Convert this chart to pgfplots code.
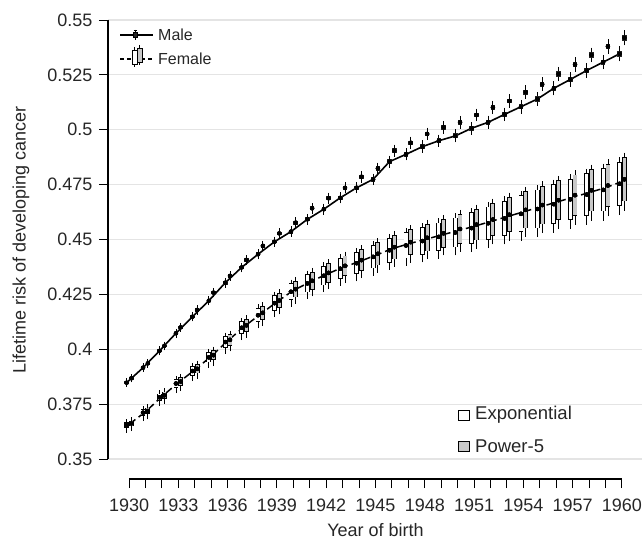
\documentclass[border=0pt]{standalone}
\usepackage{fontspec}
\setmainfont{Liberation Sans}
\usepackage{pgfplots}
\usepackage{pgfplotstable}
\pgfplotsset{compat=1.18}

% columns: year, lower whisker, lower quartile, median, upper quartile, upper whisker
% Female, exponential (white boxes); mid = level of the dashed female line
\pgfplotstableread{
x lw lq med uq uw mid
1930 .3626 .3641 .3654 .3667 .3675 .3658
1931 .3680 .3696 .3711 .3726 .3734 .3715
1932 .3748 .3764 .3781 .3798 .3806 .3785
1933 .3808 .3825 .3844 .3863 .3872 .3848
1934 .3862 .3880 .3901 .3922 .3931 .3906
1935 .3921 .3940 .3963 .3986 .3995 .3968
1936 .3988 .4007 .4033 .4059 .4068 .4038
1937 .4049 .4069 .4098 .4127 .4136 .4103
1938 .4102 .4123 .4155 .4187 .4197 .4160
1939 .4154 .4175 .4210 .4245 .4255 .4216
1940 .4202 .4224 .4262 .4300 .4310 .4268
1941 .4236 .4259 .4300 .4341 .4351 .4306
1942 .4268 .4291 .4335 .4379 .4389 .4341
1943 .4296 .4320 .4367 .4414 .4425 .4373
1944 .4317 .4342 .4392 .4442 .4453 .4399
1945 .4342 .4368 .4421 .4474 .4485 .4428
1946 .4369 .4395 .4451 .4507 .4518 .4458
1947 .4387 .4414 .4473 .4532 .4543 .4480
1948 .4403 .4431 .4493 .4555 .4567 .4500
1949 .4419 .4447 .4512 .4577 .4589 .4520
1950 .4435 .4464 .4532 .4600 .4612 .4540
1951 .4450 .4480 .4552 .4624 .4636 .4560
1952 .4468 .4498 .4574 .4650 .4662 .4582
1953 .4485 .4516 .4596 .4676 .4689 .4604
1954 .4501 .4533 .4617 .4701 .4714 .4626
1955 .4518 .4551 .4639 .4727 .4740 .4648
1956 .4537 .4570 .4661 .4752 .4765 .4670
1957 .4555 .4589 .4683 .4777 .4790 .4692
1958 .4574 .4609 .4705 .4801 .4815 .4714
1959 .4593 .4628 .4726 .4824 .4838 .4736
1960 .4618 .4654 .4754 .4854 .4868 .4764
}\femexp

% Female, power-5 (grey boxes)
\pgfplotstableread{
x lw lq med uq uw
1930 .3634 .3649 .3662 .3675 .3683
1931 .3688 .3704 .3719 .3734 .3742
1932 .3757 .3773 .3790 .3807 .3815
1933 .3817 .3834 .3853 .3872 .3881
1934 .3872 .3890 .3911 .3932 .3941
1935 .3931 .3950 .3973 .3996 .4005
1936 .3998 .4017 .4043 .4069 .4078
1937 .4060 .4080 .4109 .4138 .4147
1938 .4113 .4134 .4166 .4198 .4208
1939 .4166 .4187 .4222 .4257 .4267
1940 .4214 .4236 .4274 .4312 .4322
1941 .4248 .4271 .4312 .4353 .4363
1942 .4281 .4304 .4348 .4392 .4402
1943 .4309 .4333 .4380 .4427 .4438
1944 .4331 .4356 .4406 .4456 .4467
1945 .4356 .4382 .4435 .4488 .4499
1946 .4383 .4409 .4465 .4521 .4532
1947 .4402 .4429 .4488 .4547 .4558
1948 .4418 .4446 .4508 .4570 .4582
1949 .4435 .4463 .4528 .4593 .4605
1950 .4451 .4480 .4548 .4616 .4628
1951 .4466 .4496 .4568 .4640 .4652
1952 .4485 .4515 .4591 .4667 .4679
1953 .4502 .4533 .4613 .4693 .4706
1954 .4519 .4551 .4635 .4719 .4732
1955 .4536 .4569 .4657 .4745 .4758
1956 .4555 .4588 .4679 .4770 .4783
1957 .4574 .4608 .4702 .4796 .4809
1958 .4593 .4628 .4724 .4820 .4834
1959 .4613 .4648 .4746 .4844 .4858
1960 .4638 .4674 .4774 .4874 .4888
}\fempow

% Male, exponential
\pgfplotstableread{
x lw lq med uq uw
1930 .3836 .3842 .3848 .3854 .3860
1931 .3904 .3910 .3916 .3922 .3928
1932 .3980 .3987 .3993 .3999 .4006
1933 .4060 .4066 .4073 .4080 .4086
1934 .4134 .4141 .4148 .4155 .4162
1935 .4207 .4214 .4221 .4228 .4235
1936 .4288 .4295 .4303 .4311 .4318
1937 .4358 .4365 .4373 .4381 .4388
1938 .4417 .4425 .4433 .4441 .4449
1939 .4474 .4482 .4490 .4498 .4506
1940 .4519 .4527 .4536 .4545 .4553
1941 .4575 .4583 .4592 .4601 .4609
1942 .4620 .4629 .4638 .4647 .4656
1943 .4672 .4681 .4690 .4699 .4708
1944 .4717 .4726 .4736 .4746 .4755
1945 .4755 .4764 .4774 .4784 .4793
1946 .4835 .4845 .4855 .4865 .4875
1947 .4868 .4878 .4888 .4898 .4908
1948 .4902 .4913 .4923 .4933 .4944
1949 .4929 .4939 .4950 .4961 .4971
1950 .4950 .4961 .4972 .4983 .4994
1951 .4985 .4996 .5007 .5018 .5029
1952 .5011 .5023 .5034 .5045 .5057
1953 .5047 .5059 .5070 .5081 .5093
1954 .5081 .5093 .5105 .5117 .5129
1955 .5116 .5128 .5140 .5152 .5164
1956 .5164 .5177 .5189 .5201 .5214
1957 .5204 .5217 .5229 .5241 .5254
1958 .5244 .5258 .5270 .5282 .5296
1959 .5282 .5296 .5308 .5320 .5334
1960 .5319 .5333 .5346 .5359 .5373
}\malexp

% Male, power-5
\pgfplotstableread{
x lw lq med uq uw
1930 .3856 .3862 .3868 .3874 .3880
1931 .3924 .3930 .3936 .3942 .3948
1932 .4002 .4009 .4015 .4021 .4028
1933 .4087 .4093 .4100 .4107 .4113
1934 .4165 .4172 .4179 .4186 .4193
1935 .4244 .4251 .4258 .4265 .4272
1936 .4319 .4326 .4334 .4342 .4349
1937 .4392 .4399 .4407 .4415 .4422
1938 .4455 .4463 .4471 .4479 .4487
1939 .4512 .4520 .4528 .4536 .4544
1940 .4560 .4568 .4577 .4586 .4594
1941 .4625 .4633 .4642 .4651 .4659
1942 .4670 .4679 .4688 .4697 .4706
1943 .4717 .4726 .4735 .4744 .4753
1944 .4767 .4776 .4786 .4796 .4805
1945 .4805 .4814 .4824 .4834 .4843
1946 .4885 .4895 .4905 .4915 .4925
1947 .4921 .4931 .4941 .4951 .4961
1948 .4960 .4971 .4981 .4991 .5002
1949 .4990 .5000 .5011 .5022 .5032
1950 .5012 .5023 .5034 .5045 .5056
1951 .5045 .5056 .5067 .5078 .5089
1952 .5079 .5091 .5102 .5113 .5125
1953 .5108 .5120 .5131 .5142 .5154
1954 .5147 .5159 .5171 .5183 .5195
1955 .5183 .5195 .5207 .5219 .5231
1956 .5229 .5242 .5254 .5266 .5279
1957 .5272 .5285 .5297 .5309 .5322
1958 .5315 .5329 .5341 .5353 .5367
1959 .5354 .5368 .5380 .5392 .5406
1960 .5392 .5406 .5419 .5432 .5446
}\malpow

\definecolor{boxgrey}{HTML}{C8C8C8}
\definecolor{gridgrey}{HTML}{E4E4E4}
\definecolor{maledark}{HTML}{262626}

\pgfplotsset{
  whisk/.style={only marks, mark=none,
    error bars/.cd, y dir=both, y explicit, error mark=-,
    error mark options={black, mark size=1.6pt, line width=0.8pt},
    error bar style={draw=black, line width=0.8pt}},
  boxbar/.style 2 args={only marks, mark=none,
    error bars/.cd, y dir=both, y explicit, error mark=none,
    error bar style={draw=#1, line width=#2, line cap=butt}},
  medmark/.style={only marks, mark=-, mark size=2.4pt,
    mark options={black, line width=1.6pt}},
}

\begin{document}
\begin{tikzpicture}
\begin{axis}[
  at={(0pt,0pt)}, anchor=south west,
  scale only axis, width=534pt, height=459pt,
  xmin=-1.28, xmax=31.22, ymin=0.3409, ymax=0.55,
  axis x line*=bottom, axis y line*=left,
  axis line style={draw=none},
  tick align=outside, major tick length=9pt,
  tick style={black, line width=1pt},
  xtick={0,...,30},
  xticklabels={1930,,,1933,,,1936,,,1939,,,1942,,,1945,,,1948,,,1951,,,1954,,,1957,,,1960},
  ytick={0.35,0.375,0.4,0.425,0.45,0.475,0.5,0.525,0.55},
  yticklabels={0.35,0.375,0.4,0.425,0.45,0.475,0.5,0.525,0.55},
  ticklabel style={font=\fontsize{18}{21}\selectfont, text=black!85},
  xticklabel style={yshift=-7pt},
  yticklabel style={xshift=-3pt},
  ymajorgrids, major grid style={gridgrey, line width=1.1pt},
  xlabel={Year of birth},
  ylabel={Lifetime risk of developing cancer},
  label style={font=\fontsize{18}{21}\selectfont, text=black!85},
  xlabel style={at={(axis description cs:0.501,-0.111)}, anchor=center},
  ylabel style={at={(axis description cs:-0.163,0.52)}, anchor=center},
  clip=false,
]
% axis lines (R-style, detached)
\draw[line width=1.1pt] (axis cs:0,0.3409) -- (axis cs:30,0.3409);
\draw[line width=1.1pt] (axis cs:-1.28,0.35) -- (axis cs:-1.28,0.55);

% ---------- female ----------
\addplot[black, line width=1.5pt, dash pattern=on 8pt off 4pt] table[x expr=\thisrow{x}-1930, y=mid] {\femexp};
% exponential (white), left of the year
\addplot[whisk] table[x expr=\thisrow{x}-1930.145, y=med,
  y error plus expr=\thisrow{uw}-\thisrow{med}, y error minus expr=\thisrow{med}-\thisrow{lw}] {\femexp};
\addplot[boxbar={black}{4.8pt}] table[x expr=\thisrow{x}-1930.145, y=med,
  y error plus expr=\thisrow{uq}-\thisrow{med}, y error minus expr=\thisrow{med}-\thisrow{lq}] {\femexp};
\addplot[boxbar={white}{3.2pt}] table[x expr=\thisrow{x}-1930.145, y=med,
  y error plus expr=\thisrow{uq}-\thisrow{med}-0.00036, y error minus expr=\thisrow{med}-\thisrow{lq}-0.00036] {\femexp};
\addplot[medmark] table[x expr=\thisrow{x}-1930.145, y=med] {\femexp};
% power-5 (grey), right of the year
\addplot[whisk] table[x expr=\thisrow{x}-1929.855, y=med,
  y error plus expr=\thisrow{uw}-\thisrow{med}, y error minus expr=\thisrow{med}-\thisrow{lw}] {\fempow};
\addplot[boxbar={black}{4.8pt}] table[x expr=\thisrow{x}-1929.855, y=med,
  y error plus expr=\thisrow{uq}-\thisrow{med}, y error minus expr=\thisrow{med}-\thisrow{lq}] {\fempow};
\addplot[boxbar={boxgrey}{3.2pt}] table[x expr=\thisrow{x}-1929.855, y=med,
  y error plus expr=\thisrow{uq}-\thisrow{med}-0.00036, y error minus expr=\thisrow{med}-\thisrow{lq}-0.00036] {\fempow};
\addplot[medmark] table[x expr=\thisrow{x}-1929.855, y=med] {\fempow};

% ---------- male ----------
\addplot[black, line width=1.6pt] table[x expr=\thisrow{x}-1930.145, y=med] {\malexp};
\addplot[whisk] table[x expr=\thisrow{x}-1930.145, y=med,
  y error plus expr=\thisrow{uw}-\thisrow{med}, y error minus expr=\thisrow{med}-\thisrow{lw}] {\malexp};
\addplot[boxbar={maledark}{4.6pt}] table[x expr=\thisrow{x}-1930.145, y=med,
  y error plus expr=\thisrow{uq}-\thisrow{med}, y error minus expr=\thisrow{med}-\thisrow{lq}] {\malexp};
\addplot[whisk] table[x expr=\thisrow{x}-1929.855, y=med,
  y error plus expr=\thisrow{uw}-\thisrow{med}, y error minus expr=\thisrow{med}-\thisrow{lw}] {\malpow};
\addplot[boxbar={maledark}{4.6pt}] table[x expr=\thisrow{x}-1929.855, y=med,
  y error plus expr=\thisrow{uq}-\thisrow{med}, y error minus expr=\thisrow{med}-\thisrow{lq}] {\malpow};
\end{axis}

% legend: Male / Female (top left)
\begin{scope}[font=\fontsize{16}{19}\selectfont]
\draw[black, line width=1.5pt] (12pt,444pt) -- (45pt,444pt);
\draw[black, line width=0.8pt] (27pt,449pt) -- (27pt,439pt);
\draw[black, line width=0.8pt] (25.5pt,449pt) -- (28.5pt,449pt);
\draw[black, line width=0.8pt, fill=maledark] (25pt,441.5pt) rectangle (29pt,446.5pt);
\node[anchor=west, inner sep=0pt, text=black!85] at (50pt,444pt) {Male};

\draw[black, line width=1.2pt, dash pattern=on 4pt off 3pt] (12pt,420pt) -- (45pt,420pt);
\draw[black, line width=0.8pt] (26.5pt,432pt) -- (26.5pt,412pt);
\draw[black, line width=0.8pt] (31.5pt,434pt) -- (31.5pt,414pt);
\draw[black, line width=0.8pt, fill=white] (24pt,415pt) rectangle (29pt,429pt);
\draw[black, line width=0.8pt, fill=boxgrey] (29pt,417pt) rectangle (34pt,431pt);
\node[anchor=west, inner sep=0pt, text=black!85] at (50pt,420pt) {Female};
\end{scope}

% legend: Exponential / Power-5 (bottom right)
\begin{scope}[font=\fontsize{18.5}{21}\selectfont]
\draw[black, line width=0.9pt, fill=white] (350pt,59pt) rectangle (361pt,69pt);
\node[anchor=west, inner sep=0pt, text=black!85] at (367pt,64pt) {Exponential};
\draw[black, line width=0.9pt, fill=boxgrey] (350pt,28pt) rectangle (361pt,38pt);
\node[anchor=west, inner sep=0pt, text=black!85] at (367pt,33pt) {Power-5};
\end{scope}

\pgfresetboundingbox
\path[use as bounding box] (-108pt,-63pt) rectangle (534pt,479pt);
\end{tikzpicture}
\end{document}
